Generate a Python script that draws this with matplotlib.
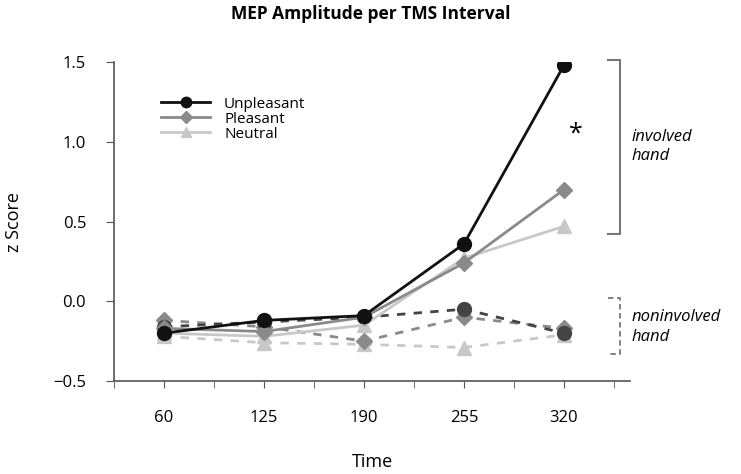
import matplotlib.pyplot as plt
import numpy as np

plt.rcParams['font.family'] = ['Open Sans', 'DejaVu Sans']

times = ['60', '125', '190', '255', '320']

# involved hand (solid)
unpleasant_inv = [-0.20, -0.12, -0.09, 0.36, 1.48]
pleasant_inv = [-0.17, -0.19, -0.10, 0.24, 0.70]
neutral_inv = [-0.20, -0.22, -0.15, 0.27, 0.47]

# noninvolved hand (dashed)
unpleasant_non = [-0.16, -0.13, -0.10, -0.05, -0.20]
pleasant_non = [-0.12, -0.16, -0.25, -0.10, -0.17]
neutral_non = [-0.22, -0.26, -0.27, -0.29, -0.21]

black = '#111111'
grey = '#8a8a8a'
light = '#c8c8c8'

fig = plt.figure(figsize=(7.41, 4.74), dpi=100)
ax = fig.add_axes([114 / 741, 93 / 474, 516 / 741, 319 / 474])
x = np.arange(len(times))

# dashed lines first so solid lines sit on top
ax.plot(x, neutral_non, '--', color=light, lw=2, marker='^', ms=10, dashes=(3, 3))
ax.plot(x, pleasant_non, '--', color=grey, lw=2, marker='D', ms=8, dashes=(3, 3))
ax.plot(x, unpleasant_non, '--', color='#444444', lw=2, marker='o', ms=10, dashes=(3, 3))

ax.plot(x, neutral_inv, '-', color=light, lw=2, marker='^', ms=10, label='Neutral')
ax.plot(x, pleasant_inv, '-', color=grey, lw=2, marker='D', ms=8, label='Pleasant')
ax.plot(x, unpleasant_inv, '-', color=black, lw=2, marker='o', ms=10, label='Unpleasant')

ax.set_xlim(-0.5, 4.66)
ax.set_ylim(-0.5, 1.5)
ax.set_xticks(x)
ax.set_xticklabels(times)
ax.set_xticks(np.arange(-0.5, 4.6, 0.5), minor=True)
ax.set_yticks([-0.5, 0.0, 0.5, 1.0, 1.5])
ax.set_yticklabels(['\u22120.5', '0.0', '0.5', '1.0', '1.5'])
ax.tick_params(axis='x', which='major', length=5, color='#555555', pad=16, labelsize=12)
ax.tick_params(axis='x', which='minor', length=5, color='#555555')
ax.tick_params(axis='y', length=6, color='#555555', pad=14, labelsize=12)

for s in ['top', 'right']:
    ax.spines[s].set_visible(False)
for s in ['left', 'bottom']:
    ax.spines[s].set_color('#555555')
    ax.spines[s].set_linewidth(1.2)

ax.set_xlabel('Time', fontsize=13)
ax.xaxis.set_label_coords(0.5, -0.225)
ax.set_ylabel('z Score', fontsize=13)
ax.yaxis.set_label_coords(-0.177, 0.5)
fig.text(0.5, 1 - 14 / 474, 'MEP Amplitude per TMS Interval', fontsize=12.5,
         fontweight='bold', ha='center', va='center')

handles, labels = ax.get_legend_handles_labels()
ax.legend(handles[::-1], labels[::-1], loc='upper left', bbox_to_anchor=(0.08, 0.91),
          frameon=False, fontsize=11, handlelength=3.2, handletextpad=0.9,
          labelspacing=0.0, borderaxespad=0, markerscale=0.75)

# significance marker
ax.text(4.12, 1.05, '*', ha='center', va='center', fontsize=18)

# brackets
bx = 4.56
bw = 0.12
ax.plot([bx - bw, bx, bx, bx - bw], [1.51, 1.51, 0.42, 0.42], color='#777777', lw=1.5,
        clip_on=False)
ax.plot([bx - bw, bx, bx, bx - bw], [0.02, 0.02, -0.33, -0.33], color='#777777', lw=1.3,
        ls=(0, (3, 2)), clip_on=False)
ax.text(bx + 0.12, 0.97, 'involved\nhand', fontsize=12, style='italic', va='center',
        ha='left', linespacing=1.3, clip_on=False)
ax.text(bx + 0.12, -0.16, 'noninvolved\nhand', fontsize=12, style='italic', va='center',
        ha='left', linespacing=1.3, clip_on=False)

fig.savefig('out.png', dpi=100)
